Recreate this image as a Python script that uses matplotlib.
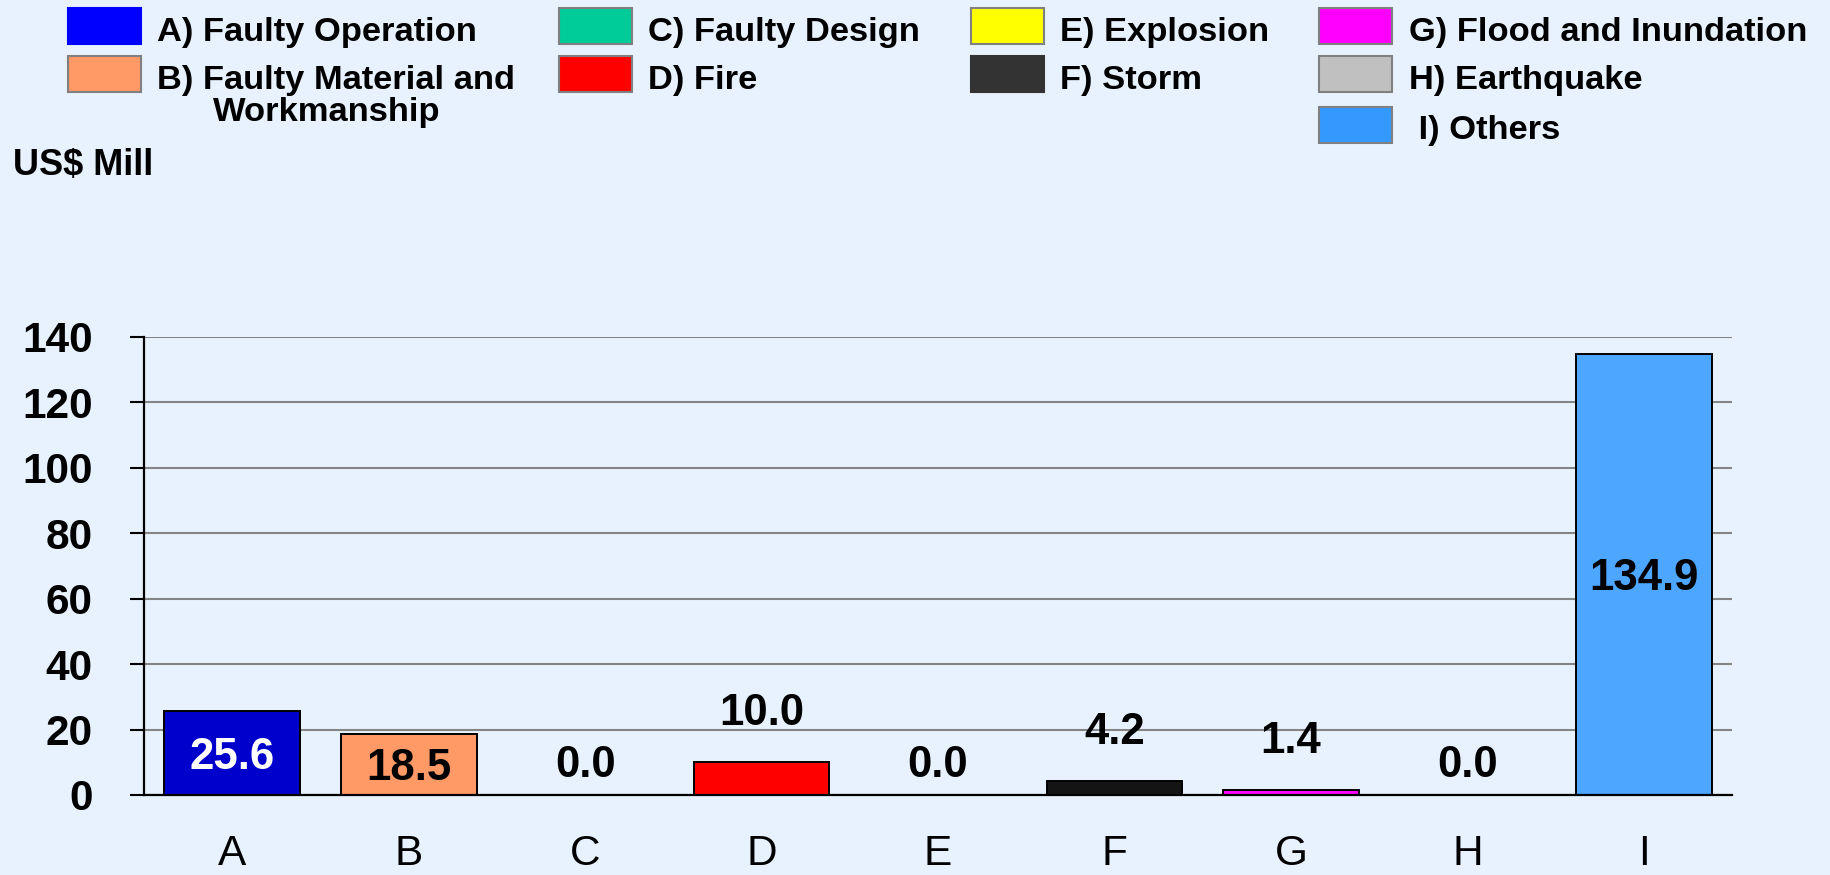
import matplotlib
matplotlib.use("Agg")
import matplotlib.pyplot as plt
from matplotlib.patches import Rectangle

categories = ["A", "B", "C", "D", "E", "F", "G", "H", "I"]
values = [25.6, 18.5, 0.0, 10.0, 0.0, 4.2, 1.4, 0.0, 134.9]
legend_labels = ["A) Faulty Operation", "B) Faulty Material and", "C) Faulty Design",
                 "D) Fire", "E) Explosion", "F) Storm", "G) Flood and Inundation",
                 "H) Earthquake", " I) Others"]
y_ticks = [0, 20, 40, 60, 80, 100, 120, 140]
unit_label = "US$ Mill"

bar_colors = ["#0000CC", "#FF9966", "#00CC99", "#FF0000", "#FFFF00", "#141414",
              "#FF00FF", "#C0C0C0", "#4DA6FF"]
legend_colors = ["#0000FF", "#FF9966", "#00CC99", "#FF0000", "#FFFF00", "#333333",
                 "#FF00FF", "#C0C0C0", "#3399FF"]
label_colors = ["white", "black", "black", "black", "black", "black", "black", "black", "black"]
inside = [True, True, False, False, False, False, False, False, True]

BG = "#E8F2FE"
W, H = 1831, 875
plt.rcParams["font.family"] = ["Liberation Sans", "DejaVu Sans"]

fig = plt.figure(figsize=(W / 100, H / 100), dpi=100, facecolor=BG)

def fx(x):
    return x / W

def fy(y):
    return 1 - y / H

ax = fig.add_axes([fx(144), fy(795), fx(1732) - fx(144), fy(337) - fy(795)])
ax.set_facecolor(BG)
xs = list(range(len(categories)))
ax.bar(xs, values, width=0.77, color=bar_colors, edgecolor="black", linewidth=1.4, zorder=3)
ax.set_xlim(-0.5, 8.5)
ax.set_ylim(0, 140)
ax.set_yticks(y_ticks)
ax.set_yticklabels([str(t) for t in y_ticks], fontsize=30.5, fontweight="bold")
ax.set_xticks(xs)
ax.set_xticklabels(categories, fontsize=30.5)
ax.tick_params(axis="x", length=0, pad=28)
ax.tick_params(axis="y", length=10, width=1.5, pad=27, direction="out")
ax.yaxis.grid(True, color="#858585", linewidth=1.5, zorder=0)
ax.set_axisbelow(True)
for s in ["top", "right"]:
    ax.spines[s].set_visible(False)
for s in ["left", "bottom"]:
    ax.spines[s].set_linewidth(1.6)
    ax.spines[s].set_color("black")
    ax.spines[s].set_zorder(4)

for x, v, c, ins in zip(xs, values, label_colors, inside):
    if ins:
        ypos = v / 2 - 1.2
    elif v == 0:
        ypos = 9.0
    else:
        ypos = v + 15
    ax.text(x, ypos, f"{v:.1f}", ha="center", va="center", fontsize=31.5,
            fontweight="bold", color=c, zorder=5)

# Legend (manual layout)
cols_box = [68, 68, 559, 559, 971, 971, 1319, 1319, 1319]
cols_text = [157, 157, 648, 648, 1060, 1060, 1409, 1409, 1409]
rows_top = [8, 56, 8, 56, 8, 56, 8, 56, 107]
rows_base = [41, 89, 41, 89, 41, 89, 41, 89, 139]
for i, lab in enumerate(legend_labels):
    bx, by = cols_box[i], rows_top[i]
    fig.patches.append(Rectangle((fx(bx), fy(by + 36)), fx(73), 36 / H,
                                 transform=fig.transFigure, facecolor=legend_colors[i],
                                 edgecolor="#808080" if i not in (0, 5) else legend_colors[i],
                                 linewidth=1.5))
    fig.text(fx(cols_text[i]), fy(rows_base[i]), lab, fontsize=24.8, fontweight="bold",
             ha="left", va="baseline")
fig.text(fx(213), fy(121), "Workmanship", fontsize=24.8, fontweight="bold",
         ha="left", va="baseline")

fig.text(fx(13), fy(175), unit_label, fontsize=26, fontweight="bold", ha="left", va="baseline")

fig.savefig("out.png", dpi=100, facecolor=BG)
